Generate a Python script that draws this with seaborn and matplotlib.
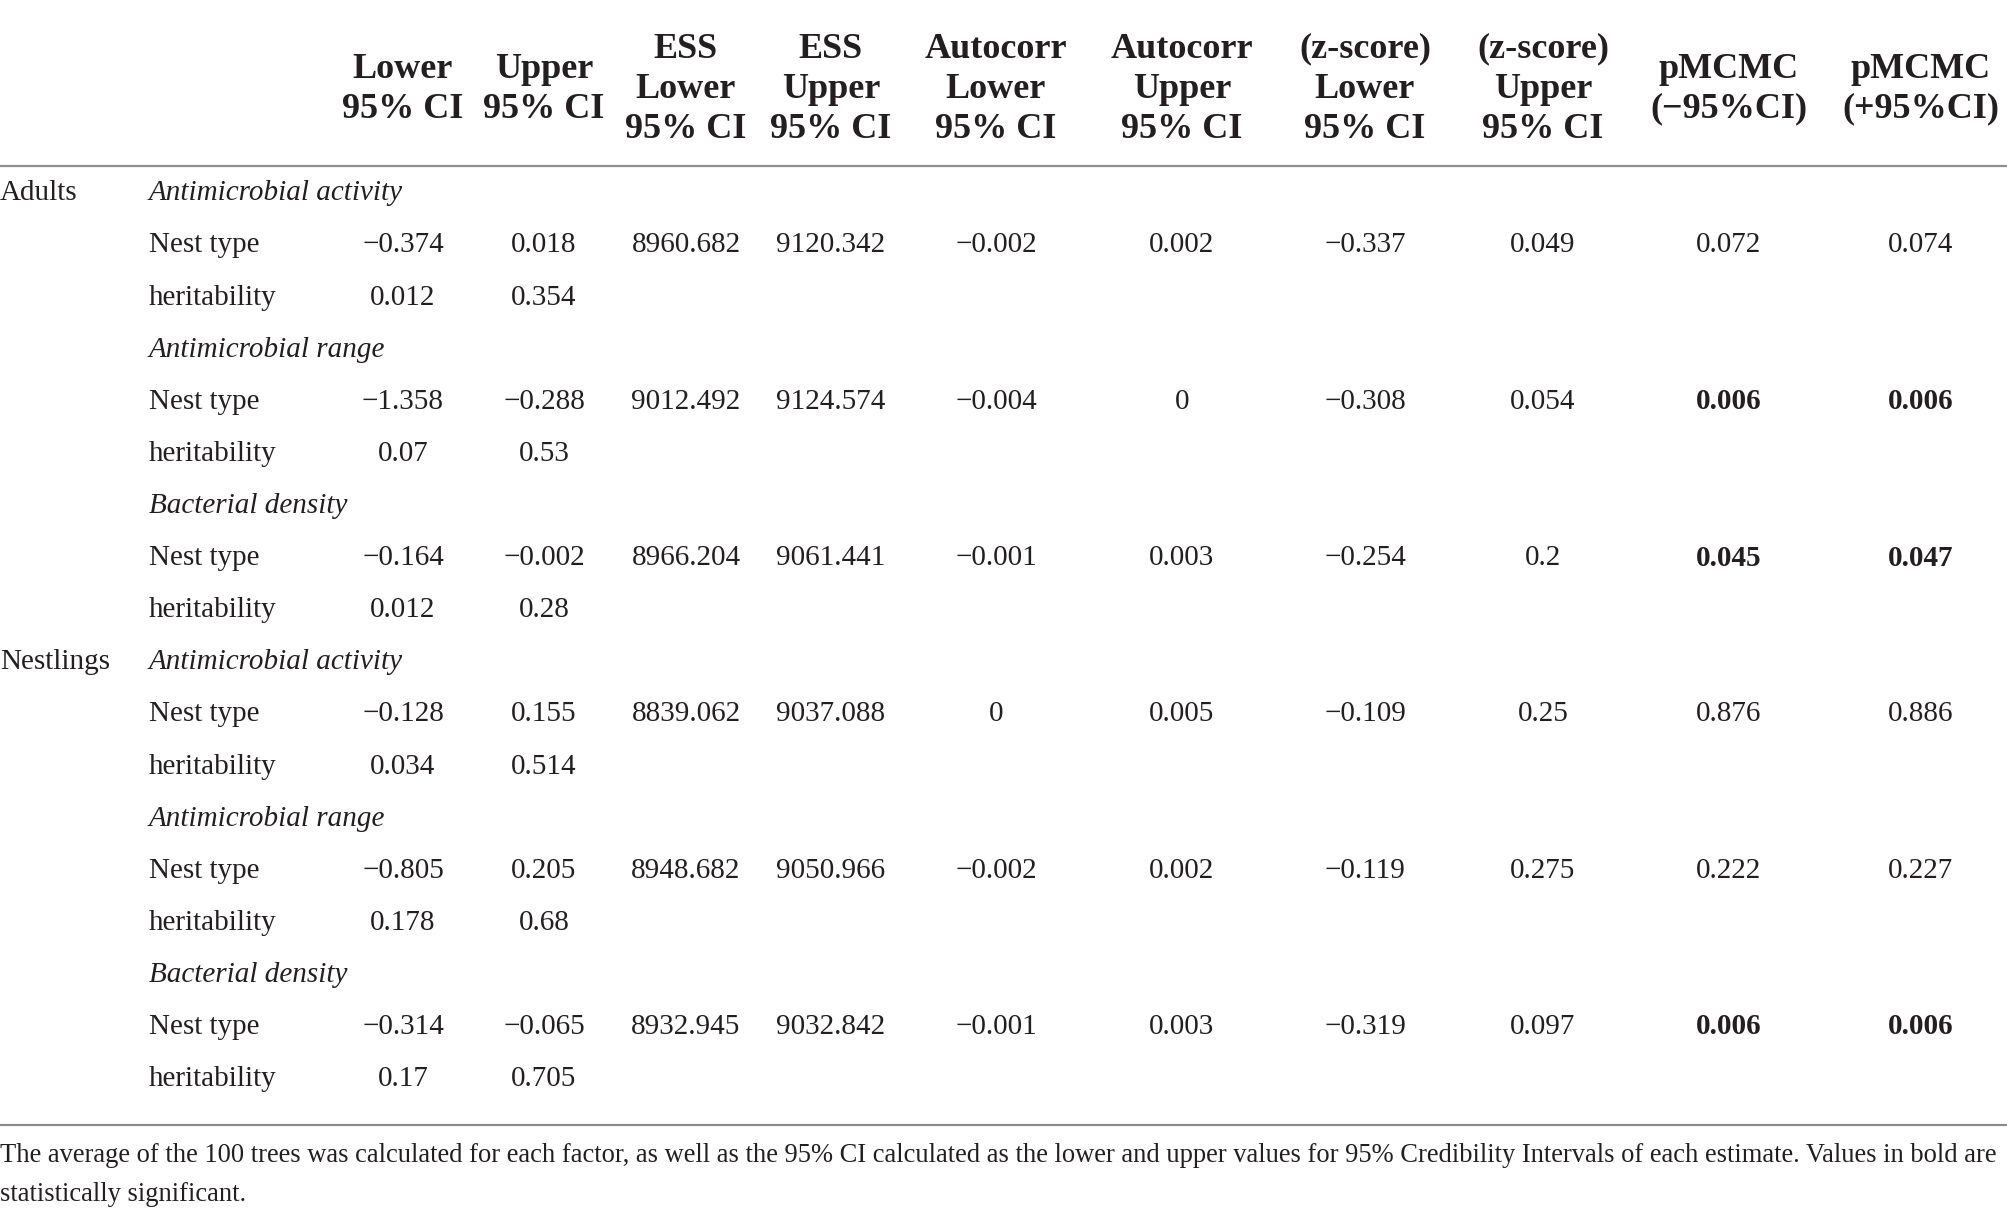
import matplotlib
matplotlib.use("Agg")
import matplotlib.pyplot as plt
import seaborn as sns

## DATA
columns = ["Lower\n95% CI", "Upper\n95% CI", "ESS\nLower\n95% CI", "ESS\nUpper\n95% CI",
           "Autocorr\nLower\n95% CI", "Autocorr\nUpper\n95% CI",
           "(z-score)\nLower\n95% CI", "(z-score)\nUpper\n95% CI",
           "pMCMC\n(\u221295%CI)", "pMCMC\n(+95%CI)"]
groups = ["Adults", "Nestlings"]
traits = ["Antimicrobial activity", "Antimicrobial range", "Bacterial density"]
factors = ["Nest type", "heritability"]

adults_nest = [
    ["\u22120.374", "0.018", "8960.682", "9120.342", "\u22120.002", "0.002", "\u22120.337", "0.049", "0.072", "0.074"],
    ["\u22121.358", "\u22120.288", "9012.492", "9124.574", "\u22120.004", "0", "\u22120.308", "0.054", "0.006", "0.006"],
    ["\u22120.164", "\u22120.002", "8966.204", "9061.441", "\u22120.001", "0.003", "\u22120.254", "0.2", "0.045", "0.047"],
]
adults_herit = [["0.012", "0.354"], ["0.07", "0.53"], ["0.012", "0.28"]]
nestlings_nest = [
    ["\u22120.128", "0.155", "8839.062", "9037.088", "0", "0.005", "\u22120.109", "0.25", "0.876", "0.886"],
    ["\u22120.805", "0.205", "8948.682", "9050.966", "\u22120.002", "0.002", "\u22120.119", "0.275", "0.222", "0.227"],
    ["\u22120.314", "\u22120.065", "8932.945", "9032.842", "\u22120.001", "0.003", "\u22120.319", "0.097", "0.006", "0.006"],
]
nestlings_herit = [["0.034", "0.514"], ["0.178", "0.68"], ["0.17", "0.705"]]

footnote = ("The average of the 100 trees was calculated for each factor, as well as the 95% CI calculated as the "
            "lower and upper values for 95% Credibility Intervals of each estimate. Values in bold are\n"
            "statistically significant.")

## STYLE
sns.set_theme(style="white")
plt.rcParams["font.family"] = ["Liberation Serif", "DejaVu Serif"]
ink = "#231f20"
rule = "#8c8c8c"

W, H = 2008, 1219
fig = plt.figure(figsize=(W / 100, H / 100), dpi=100)
ax = fig.add_axes([0, 0, 1, 1])
ax.set_xlim(0, W)
ax.set_ylim(H, 0)
ax.axis("off")

col_x = [403, 544, 686, 831, 996, 1182, 1365, 1543, 1729, 1921]
label_x = 149
row_y0, row_h = 193.4, 52.1
body_fs, head_fs = 21, 26

# header
for x, name in zip(col_x, columns):
    ax.text(x, 89, name, ha="center", va="center", fontsize=head_fs, fontweight="bold",
            color=ink, linespacing=1.28)
ax.axhline(166, color=rule, lw=1.6)


def is_sig(v, j):
    # pMCMC below 0.05 shown in bold
    return j >= 8 and float(v.replace("\u2212", "-")) < 0.05


row = 0
for group, nest, herit in [("Adults", adults_nest, adults_herit),
                           ("Nestlings", nestlings_nest, nestlings_herit)]:
    ax.text(0, row_y0 + row * row_h, group, ha="left", va="center", fontsize=body_fs, color=ink)
    for t, trait in enumerate(traits):
        y = row_y0 + row * row_h
        ax.text(label_x, y, trait, ha="left", va="center", fontsize=body_fs, style="italic", color=ink)
        row += 1
        for fac, vals in zip(factors, [nest[t], herit[t]]):
            y = row_y0 + row * row_h
            ax.text(label_x, y, fac, ha="left", va="center", fontsize=body_fs, color=ink)
            for j, v in enumerate(vals):
                ax.text(col_x[j], y, v, ha="center", va="center", fontsize=body_fs, color=ink,
                        fontweight="bold" if is_sig(v, j) else "normal")
            row += 1

ax.axhline(1125, color=rule, lw=1.6)
ax.text(0, 1175, footnote, ha="left", va="center", fontsize=19.1, color=ink, linespacing=1.75)

fig.savefig("out.png", dpi=100)
